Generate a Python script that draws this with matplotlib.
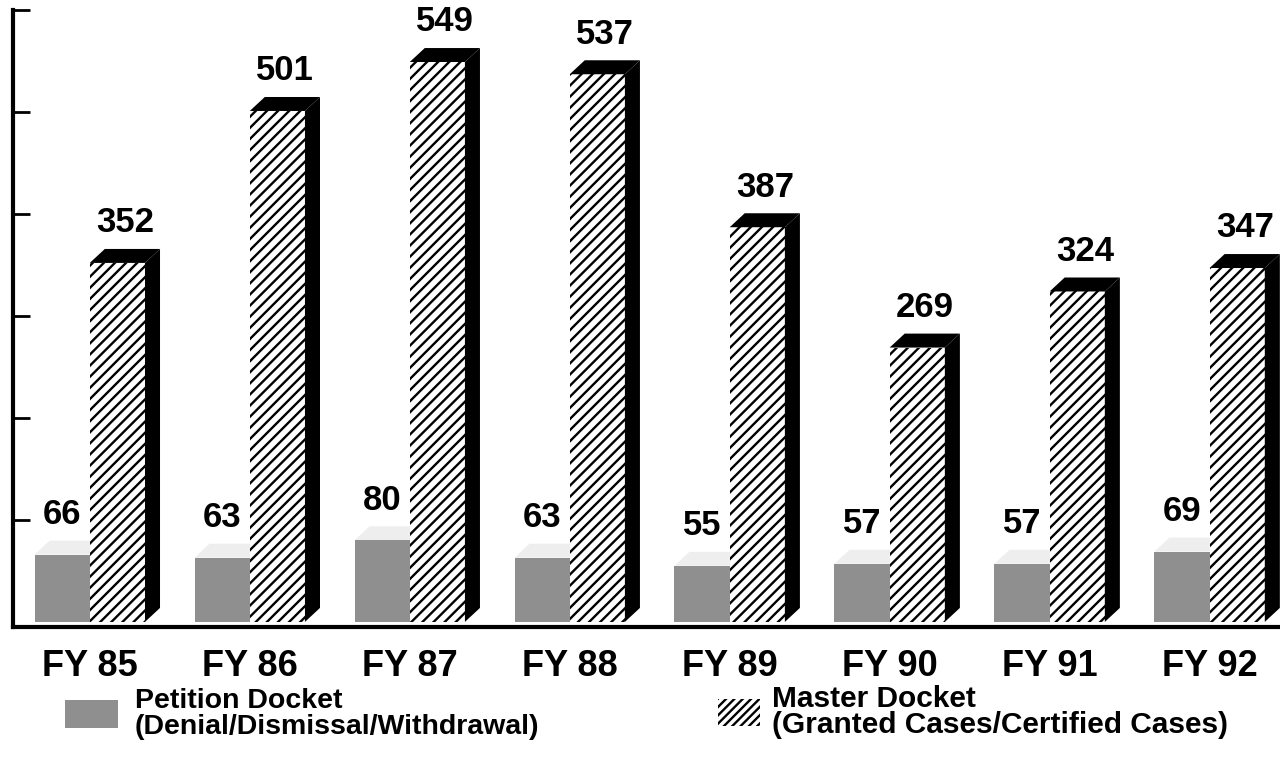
import matplotlib
matplotlib.use("Agg")
import matplotlib.pyplot as plt
from matplotlib.patches import Patch
import numpy as np

plt.rcParams['font.family'] = ['Liberation Sans', 'DejaVu Sans']
plt.rcParams['hatch.linewidth'] = 1.7

years = ["FY 85", "FY 86", "FY 87", "FY 88", "FY 89", "FY 90", "FY 91", "FY 92"]
petition = [66, 63, 80, 63, 55, 57, 57, 69]
master = [352, 501, 549, 537, 387, 269, 324, 347]
yticks = [100, 200, 300, 400, 500, 600]
petition_label = "Petition Docket\n(Denial/Dismissal/Withdrawal)"
master_label = "Master Docket\n(Granted Cases/Certified Cases)"

W, H = 1280, 766
fig = plt.figure(figsize=(W / 100, H / 100), dpi=100)
ax = fig.add_axes([13 / W, (H - 627) / H, 1 - 13 / W, 617 / H])

x = np.arange(len(years))
w = 0.345      # bar width (data units)
dx = 0.094     # 3D depth offset x
dy = 13.7      # 3D depth offset y
pet_color = '#8f8f8f'

# petition bars
ax.bar(x - w, petition, width=w, align='edge', color=pet_color, linewidth=0, zorder=2)
for xi, v in zip(x, petition):
    x0, x1 = xi - w, xi
    ax.fill([x0, x0 + dx, x1 + dx, x1], [v, v + dy, v + dy, v],
            color='#eeeeee', linewidth=0, zorder=1.5)
    ax.annotate(str(v), xy=(xi - w / 2, v + dy), xytext=(0, 12),
                textcoords='offset points', ha='center', va='baseline',
                fontsize=25, fontweight='bold', annotation_clip=False)

# master bars (3D)
ax.bar(x, master, width=w, align='edge', facecolor='white', edgecolor='black',
       hatch='///', linewidth=0, zorder=3)
for xi, v in zip(x, master):
    x0, x1 = xi, xi + w
    ax.fill([x0, x0 + dx, x1 + dx, x1], [v, v + dy, v + dy, v],
            color='black', linewidth=0, zorder=3)
    ax.fill([x1, x1 + dx, x1 + dx, x1], [0, dy, v + dy, v],
            color='black', linewidth=0, zorder=3)
    ax.annotate(str(v), xy=(xi + w / 2 + dx / 2, v + dy), xytext=(0, 12),
                textcoords='offset points', ha='center', va='baseline',
                fontsize=25, fontweight='bold', annotation_clip=False)

ax.set_xlim(-0.48, 7.44)
ax.set_ylim(-5, 600)
ax.set_xticks(x, years)
ax.set_yticks(yticks, [''] * len(yticks))
ax.tick_params(axis='x', length=0, pad=16, labelsize=26)
for t in ax.get_xticklabels():
    t.set_fontweight('bold')
ax.tick_params(axis='y', direction='in', length=12, width=2)
for s in ['top', 'right']:
    ax.spines[s].set_visible(False)
ax.spines['left'].set_linewidth(3)
ax.spines['bottom'].set_linewidth(3)
ax.set_facecolor('white')

leg1 = fig.legend([Patch(facecolor=pet_color, linewidth=0)], [petition_label],
                  loc='center left', bbox_to_anchor=(65 / W, 1 - 714 / H),
                  frameon=False, prop={'size': 20.5, 'weight': 'bold'},
                  handlelength=1.85, handleheight=1.15, handletextpad=0.6,
                  borderpad=0, borderaxespad=0)
leg2 = fig.legend([Patch(facecolor='white', edgecolor='black', hatch='////', linewidth=0)],
                  [master_label],
                  loc='center left', bbox_to_anchor=(718 / W, 1 - 712 / H),
                  frameon=False, prop={'size': 21.5, 'weight': 'bold'},
                  handlelength=1.4, handleheight=1.0, handletextpad=0.4,
                  borderpad=0, borderaxespad=0)
for leg in (leg1, leg2):
    for t in leg.get_texts():
        t.set_linespacing(0.95)

fig.savefig("out.png", dpi=100)
